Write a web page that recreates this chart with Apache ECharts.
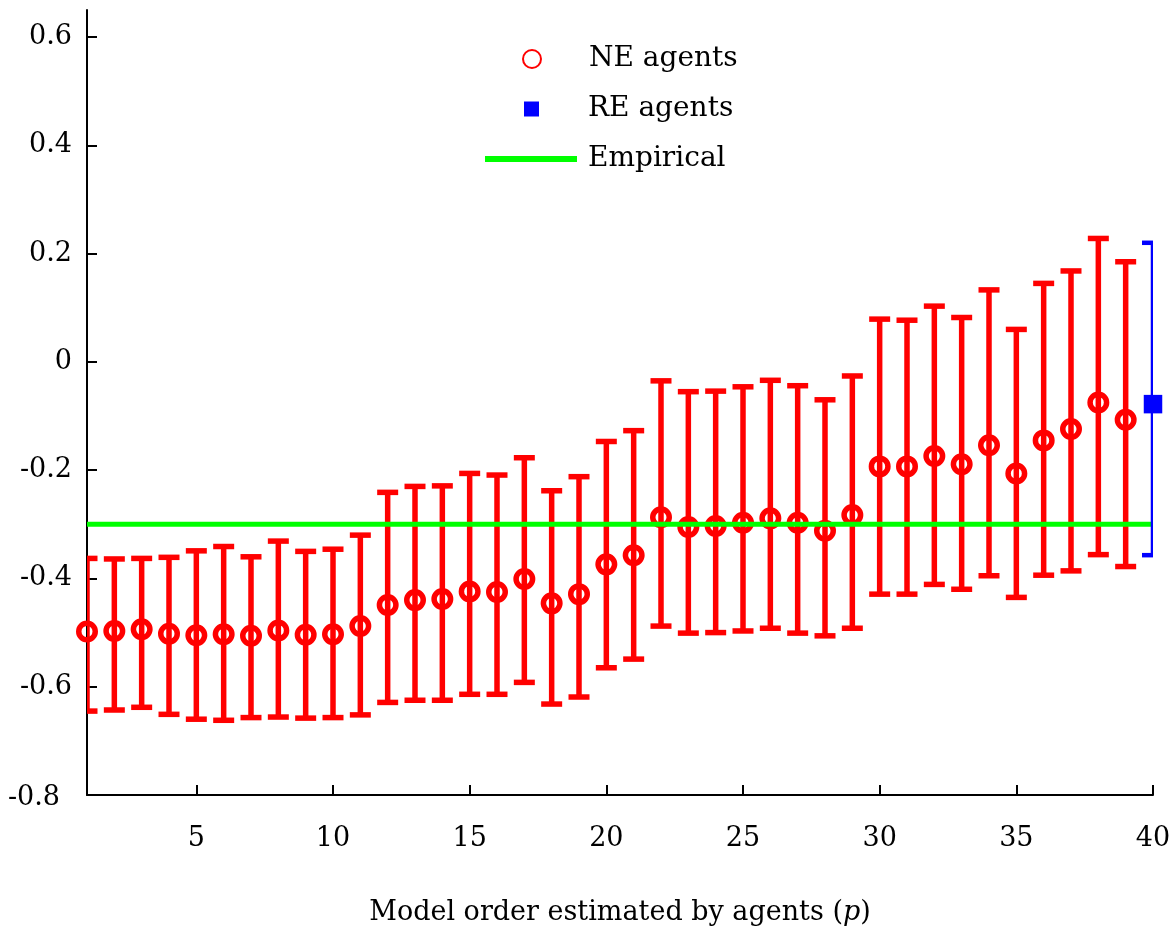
<!DOCTYPE html>
<html>
<head>
<meta charset="utf-8">
<script src="https://cdn.jsdelivr.net/npm/echarts@6/dist/echarts.min.js"></script>
<style>html,body{margin:0;padding:0;background:#fff;}#main{width:1176px;height:935px;}</style>
</head>
<body>
<div id="main"></div>
<script>
// Model order p for NE agents
const pValues = [1,2,3,4,5,6,7,8,9,10,11,12,13,14,15,16,17,18,19,20,21,22,23,24,25,26,27,28,29,30,31,32,33,34,35,36,37,38,39];
const neMean = [-0.498,-0.497,-0.494,-0.502,-0.505,-0.503,-0.506,-0.496,-0.504,-0.503,-0.488,-0.449,-0.440,-0.438,-0.424,-0.425,-0.401,-0.446,-0.429,-0.374,-0.357,-0.287,-0.305,-0.303,-0.297,-0.289,-0.297,-0.312,-0.283,-0.193,-0.193,-0.174,-0.189,-0.154,-0.206,-0.145,-0.124,-0.075,-0.107];
const neUpper = [-0.363,-0.364,-0.363,-0.361,-0.349,-0.341,-0.360,-0.331,-0.350,-0.346,-0.320,-0.241,-0.230,-0.229,-0.206,-0.209,-0.177,-0.238,-0.212,-0.147,-0.127,-0.035,-0.055,-0.054,-0.046,-0.034,-0.044,-0.070,-0.026,0.079,0.077,0.103,0.082,0.133,0.060,0.145,0.168,0.228,0.185];
const neLower = [-0.645,-0.643,-0.638,-0.651,-0.660,-0.662,-0.657,-0.656,-0.658,-0.657,-0.652,-0.629,-0.625,-0.625,-0.614,-0.614,-0.592,-0.632,-0.619,-0.565,-0.549,-0.488,-0.501,-0.500,-0.497,-0.492,-0.501,-0.506,-0.492,-0.429,-0.429,-0.411,-0.420,-0.395,-0.435,-0.394,-0.386,-0.356,-0.378];
// RE agents
const reP = [40];
const reMean = [-0.078];
const reUpper = [0.220];
const reLower = [-0.357];
// Empirical value
const empiricalX = [1, 40];
const empiricalValue = -0.30;
// Axis ticks
const xTicks = [5,10,15,20,25,30,35,40];
const yTicks = [-0.8,-0.6,-0.4,-0.2,0,0.2,0.4,0.6];

const FONT = 'DejaVu Serif';
const RED = '#ff0000', BLUE = '#0000ff', GREEN = '#00ff00';

function makeErrRender(color, lw, capHalf) {
  return function (params, api) {
    const x = api.value(0), lo = api.value(1), hi = api.value(2);
    const t = api.coord([x, hi]);
    const b = api.coord([x, lo]);
    const style = { stroke: color, lineWidth: lw, fill: null };
    return {
      type: 'group',
      children: [
        { type: 'line', shape: { x1: t[0], y1: t[1], x2: b[0], y2: b[1] }, style: style },
        { type: 'line', shape: { x1: t[0] - capHalf, y1: t[1], x2: t[0] + capHalf, y2: t[1] }, style: style },
        { type: 'line', shape: { x1: b[0] - capHalf, y1: b[1], x2: b[0] + capHalf, y2: b[1] }, style: style }
      ]
    };
  };
}

const neErr = pValues.map((p, i) => [p, neLower[i], neUpper[i]]);
const reErr = reP.map((p, i) => [p, reLower[i], reUpper[i]]);
const nePts = pValues.map((p, i) => [p, neMean[i]]);
const rePts = reP.map((p, i) => [p, reMean[i]]);
const empPts = empiricalX.map(x => [x, empiricalValue]);

const legendText = { fontFamily: FONT, fontSize: 28, color: '#000', lineHeight: 32 };

const chart = echarts.init(document.getElementById('main'), null, { renderer: 'canvas' });
chart.setOption({
  backgroundColor: '#fff',
  animation: false,
  grid: { left: 87, right: 23, top: 10, bottom: 140, containLabel: false },
  legend: [
    {
      data: [{ name: 'NE agents', icon: 'circle', itemStyle: { color: '#fff', borderColor: RED, borderWidth: 2, opacity: 1 } }],
      left: 522, top: 43, padding: 0, itemWidth: 18, itemHeight: 18, selectedMode: false,
      textStyle: Object.assign({ padding: [0, 0, 0, 43] }, legendText)
    },
    {
      data: [{ name: 'RE agents', icon: 'rect', itemStyle: { color: BLUE, opacity: 1 } }],
      left: 524, top: 93, padding: 0, itemWidth: 15, itemHeight: 15, selectedMode: false,
      textStyle: Object.assign({ padding: [0, 0, 0, 44] }, legendText)
    },
    {
      data: [{ name: 'Empirical', icon: 'rect', itemStyle: { color: GREEN, opacity: 1 } }],
      left: 485, top: 143, padding: 0, itemWidth: 92, itemHeight: 6, selectedMode: false,
      textStyle: Object.assign({ padding: [0, 0, 0, 6] }, legendText)
    }
  ],
  xAxis: {
    type: 'value', min: 1, max: 40,
    name: 'Model order estimated by agents ({i|p})',
    nameLocation: 'middle', nameGap: 104,
    nameTextStyle: {
      fontFamily: FONT, fontSize: 27, color: '#000',
      rich: { i: { fontFamily: FONT, fontSize: 27, fontStyle: 'italic', color: '#000' } }
    },
    axisLine: { show: true, onZero: false, lineStyle: { color: '#000', width: 2 } },
    axisTick: { show: true, inside: true, length: 10, lineStyle: { color: '#000', width: 2 }, customValues: xTicks },
    axisLabel: { show: true, margin: 30, fontFamily: FONT, fontSize: 27, color: '#000', customValues: xTicks },
    splitLine: { show: false }
  },
  yAxis: {
    type: 'value', min: -0.8, max: 0.65,
    axisLine: { show: true, onZero: false, lineStyle: { color: '#000', width: 2 } },
    axisTick: { show: true, inside: true, length: 10, lineStyle: { color: '#000', width: 2 }, customValues: yTicks },
    axisLabel: {
      show: true, margin: 15, fontFamily: FONT, fontSize: 27, color: '#000', customValues: yTicks,
      formatter: v => {
        const s = (Math.round(v * 10) / 10).toString();
        return Math.abs(v + 0.8) < 1e-9 ? '{c|' + s + '}' : s;
      },
      rich: { c: { fontFamily: FONT, fontSize: 27, color: '#000', padding: [6, 12, 0, 0] } }
    },
    splitLine: { show: false }
  },
  series: [
    {
      name: 'NE error', type: 'custom', data: neErr, clip: true, z: 2,
      renderItem: makeErrRender(RED, 5.5, 10.5), encode: { x: 0, y: [1, 2] }
    },
    {
      name: 'NE agents', type: 'scatter', data: nePts, z: 3, clip: false,
      symbol: 'circle', symbolSize: 16.5,
      itemStyle: { color: 'rgba(0,0,0,0)', borderColor: RED, borderWidth: 5.5, opacity: 1 }
    },
    {
      name: 'Empirical', type: 'line', data: empPts, z: 4, showSymbol: false, symbol: 'none',
      lineStyle: { color: GREEN, width: 5, opacity: 1 }, itemStyle: { color: GREEN }
    },
    {
      name: 'RE error', type: 'custom', data: reErr, clip: true, z: 5,
      renderItem: makeErrRender(BLUE, 4.5, 11), encode: { x: 0, y: [1, 2] }
    },
    {
      name: 'RE agents', type: 'scatter', data: rePts, z: 6, clip: false,
      symbol: 'rect', symbolSize: 18.5, itemStyle: { color: BLUE, opacity: 1 }
    }
  ]
});
</script>
</body>
</html>
